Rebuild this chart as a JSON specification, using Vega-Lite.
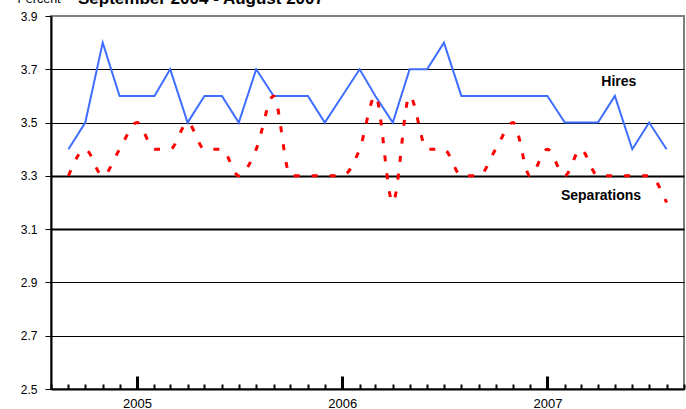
{
  "$schema": "https://vega.github.io/schema/vega-lite/v6.json",
  "width": 633,
  "height": 373,
  "autosize": {"type": "none"},
  "padding": {"left": 51, "top": 16, "right": 2, "bottom": 20},
  "background": "white",
  "config": {
    "font": "Liberation Sans",
    "view": {"stroke": "#808080", "strokeWidth": 2}
  },
  "title": {
    "text": "September 2004 - August 2007",
    "font": "Liberation Sans",
    "fontSize": 17,
    "fontWeight": "bold",
    "color": "black",
    "anchor": "start",
    "frame": "group",
    "dx": 27,
    "dy": 28.5,
    "baseline": "alphabetic",
    "offset": 0
  },
  "data": {
    "values": [
      {"date": "2004-09-01", "series": "Hires", "rate": 3.4},
      {"date": "2004-10-01", "series": "Hires", "rate": 3.5},
      {"date": "2004-11-01", "series": "Hires", "rate": 3.8},
      {"date": "2004-12-01", "series": "Hires", "rate": 3.6},
      {"date": "2005-01-01", "series": "Hires", "rate": 3.6},
      {"date": "2005-02-01", "series": "Hires", "rate": 3.6},
      {"date": "2005-03-01", "series": "Hires", "rate": 3.7},
      {"date": "2005-04-01", "series": "Hires", "rate": 3.5},
      {"date": "2005-05-01", "series": "Hires", "rate": 3.6},
      {"date": "2005-06-01", "series": "Hires", "rate": 3.6},
      {"date": "2005-07-01", "series": "Hires", "rate": 3.5},
      {"date": "2005-08-01", "series": "Hires", "rate": 3.7},
      {"date": "2005-09-01", "series": "Hires", "rate": 3.6},
      {"date": "2005-10-01", "series": "Hires", "rate": 3.6},
      {"date": "2005-11-01", "series": "Hires", "rate": 3.6},
      {"date": "2005-12-01", "series": "Hires", "rate": 3.5},
      {"date": "2006-01-01", "series": "Hires", "rate": 3.6},
      {"date": "2006-02-01", "series": "Hires", "rate": 3.7},
      {"date": "2006-03-01", "series": "Hires", "rate": 3.6},
      {"date": "2006-04-01", "series": "Hires", "rate": 3.5},
      {"date": "2006-05-01", "series": "Hires", "rate": 3.7},
      {"date": "2006-06-01", "series": "Hires", "rate": 3.7},
      {"date": "2006-07-01", "series": "Hires", "rate": 3.8},
      {"date": "2006-08-01", "series": "Hires", "rate": 3.6},
      {"date": "2006-09-01", "series": "Hires", "rate": 3.6},
      {"date": "2006-10-01", "series": "Hires", "rate": 3.6},
      {"date": "2006-11-01", "series": "Hires", "rate": 3.6},
      {"date": "2006-12-01", "series": "Hires", "rate": 3.6},
      {"date": "2007-01-01", "series": "Hires", "rate": 3.6},
      {"date": "2007-02-01", "series": "Hires", "rate": 3.5},
      {"date": "2007-03-01", "series": "Hires", "rate": 3.5},
      {"date": "2007-04-01", "series": "Hires", "rate": 3.5},
      {"date": "2007-05-01", "series": "Hires", "rate": 3.6},
      {"date": "2007-06-01", "series": "Hires", "rate": 3.4},
      {"date": "2007-07-01", "series": "Hires", "rate": 3.5},
      {"date": "2007-08-01", "series": "Hires", "rate": 3.4},
      {"date": "2004-09-01", "series": "Separations", "rate": 3.3},
      {"date": "2004-10-01", "series": "Separations", "rate": 3.4},
      {"date": "2004-11-01", "series": "Separations", "rate": 3.3},
      {"date": "2004-12-01", "series": "Separations", "rate": 3.4},
      {"date": "2005-01-01", "series": "Separations", "rate": 3.5},
      {"date": "2005-02-01", "series": "Separations", "rate": 3.4},
      {"date": "2005-03-01", "series": "Separations", "rate": 3.4},
      {"date": "2005-04-01", "series": "Separations", "rate": 3.5},
      {"date": "2005-05-01", "series": "Separations", "rate": 3.4},
      {"date": "2005-06-01", "series": "Separations", "rate": 3.4},
      {"date": "2005-07-01", "series": "Separations", "rate": 3.3},
      {"date": "2005-08-01", "series": "Separations", "rate": 3.4},
      {"date": "2005-09-01", "series": "Separations", "rate": 3.6},
      {"date": "2005-10-01", "series": "Separations", "rate": 3.3},
      {"date": "2005-11-01", "series": "Separations", "rate": 3.3},
      {"date": "2005-12-01", "series": "Separations", "rate": 3.3},
      {"date": "2006-01-01", "series": "Separations", "rate": 3.3},
      {"date": "2006-02-01", "series": "Separations", "rate": 3.4},
      {"date": "2006-03-01", "series": "Separations", "rate": 3.6},
      {"date": "2006-04-01", "series": "Separations", "rate": 3.2},
      {"date": "2006-05-01", "series": "Separations", "rate": 3.6},
      {"date": "2006-06-01", "series": "Separations", "rate": 3.4},
      {"date": "2006-07-01", "series": "Separations", "rate": 3.4},
      {"date": "2006-08-01", "series": "Separations", "rate": 3.3},
      {"date": "2006-09-01", "series": "Separations", "rate": 3.3},
      {"date": "2006-10-01", "series": "Separations", "rate": 3.4},
      {"date": "2006-11-01", "series": "Separations", "rate": 3.5},
      {"date": "2006-12-01", "series": "Separations", "rate": 3.3},
      {"date": "2007-01-01", "series": "Separations", "rate": 3.4},
      {"date": "2007-02-01", "series": "Separations", "rate": 3.3},
      {"date": "2007-03-01", "series": "Separations", "rate": 3.4},
      {"date": "2007-04-01", "series": "Separations", "rate": 3.3},
      {"date": "2007-05-01", "series": "Separations", "rate": 3.3},
      {"date": "2007-06-01", "series": "Separations", "rate": 3.3},
      {"date": "2007-07-01", "series": "Separations", "rate": 3.3},
      {"date": "2007-08-01", "series": "Separations", "rate": 3.2}
    ]
  },
  "encoding": {
    "x": {
      "field": "date",
      "type": "temporal",
      "scale": {
        "type": "utc",
        "domain": [
          {"year": 2004, "month": 8, "date": 1, "utc": true},
          {"year": 2007, "month": 9, "date": 1, "utc": true}
        ]
      }
    },
    "y": {
      "field": "rate",
      "type": "quantitative",
      "scale": {"domain": [2.5, 3.9], "nice": false, "zero": false},
      "axis": {
        "values": [2.5, 2.7, 2.9, 3.1, 3.3, 3.5, 3.7, 3.9],
        "format": ".1f",
        "title": "Percent",
        "titleAngle": 0,
        "titleAlign": "left",
        "titleBaseline": "alphabetic",
        "titleX": -34,
        "titleY": -13.5,
        "titleFont": "Liberation Sans",
        "titleFontSize": 12.5,
        "titleFontWeight": "normal",
        "titleColor": "black",
        "labelFont": "Liberation Sans",
        "labelFontSize": 12,
        "labelColor": "black",
        "labelPadding": 8,
        "tickSize": 6,
        "tickWidth": 1,
        "tickColor": "black",
        "domainColor": "black",
        "domainWidth": 2,
        "grid": true,
        "gridColor": "black",
        "gridOpacity": {"condition": {"test": "datum.value > 3.85", "value": 0}, "value": 1},
        "gridWidth": {"condition": {"test": "abs(datum.value - 3.1) < 0.01 || abs(datum.value - 3.3) < 0.01", "value": 2}, "value": 1}
      }
    }
  },
  "layer": [
    {
      "transform": [{"filter": "datum.series === 'Hires'"}],
      "mark": {"type": "line", "color": "#3F6EFF", "strokeWidth": 2},
      "encoding": {
        "x": {
          "field": "date",
          "type": "temporal",
          "axis": {
            "orient": "bottom",
            "title": null,
            "tickCount": {"interval": "month", "step": 1},
            "labels": false,
            "grid": false,
            "tickSize": -5,
            "tickWidth": 2,
            "tickColor": "black",
            "domain": true,
            "domainColor": "black",
            "domainWidth": 2
          }
        }
      }
    },
    {
      "transform": [{"filter": "datum.series === 'Separations'"}],
      "mark": {"type": "line", "color": "#FF0000", "strokeWidth": 3, "strokeDash": [6, 12], "interpolate": "monotone"},
      "encoding": {
        "x": {
          "field": "date",
          "type": "temporal",
          "axis": {
            "orient": "bottom",
            "title": null,
            "values": [
              {"year": 2005, "month": 1, "date": 1, "utc": true},
              {"year": 2006, "month": 1, "date": 1, "utc": true},
              {"year": 2007, "month": 1, "date": 1, "utc": true}
            ],
            "format": "%Y",
            "labelFont": "Liberation Sans",
            "labelFontSize": 13,
            "labelColor": "black",
            "labelPadding": 21,
            "grid": false,
            "tickSize": -13,
            "tickWidth": 3,
            "tickColor": "black",
            "domain": false
          }
        }
      }
    },
    {
      "transform": [{"filter": "datum.series === 'Hires' && utcyear(datum.date) === 2007 && utcmonth(datum.date) === 4"}],
      "mark": {"type": "text", "font": "Liberation Sans", "fontSize": 14, "fontWeight": "bold", "color": "black", "align": "center", "baseline": "alphabetic", "dx": 4, "dy": -10},
      "encoding": {
        "x": {"field": "date", "type": "temporal", "axis": null},
        "text": {"field": "series"}
      }
    },
    {
      "transform": [{"filter": "datum.series === 'Separations' && utcyear(datum.date) === 2007 && utcmonth(datum.date) === 3"}],
      "mark": {"type": "text", "font": "Liberation Sans", "fontSize": 14, "fontWeight": "bold", "color": "black", "align": "center", "baseline": "alphabetic", "dx": 3, "dy": 24},
      "encoding": {
        "x": {"field": "date", "type": "temporal", "axis": null},
        "text": {"field": "series"}
      }
    }
  ],
  "resolve": {"axis": {"x": "independent"}}
}
